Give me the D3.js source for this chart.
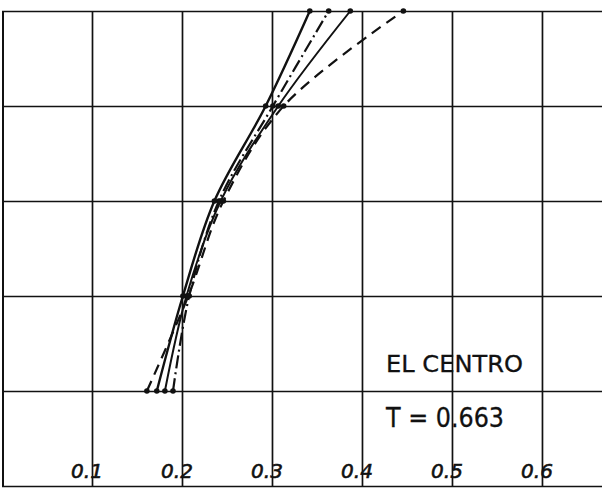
<!DOCTYPE html>
<html><head><meta charset="utf-8">
<script src="https://cdn.jsdelivr.net/npm/d3@7"></script>
<style>body{margin:0;background:#fff}svg{display:block}</style>
</head><body>
<script>
const levels = [1, 2, 3, 4, 5];
const xTicks = [0.1, 0.2, 0.3, 0.4, 0.5, 0.6];
const xTickLabels = ["0.1", "0.2", "0.3", "0.4", "0.5", "0.6"];
const yTicks = [0, 1, 2, 3, 4, 5];
const seriesA = [0.172, 0.201, 0.236, 0.293, 0.342]; // solid (left at top)
const seriesB = [0.190, 0.208, 0.241, 0.301, 0.363]; // dash-dot
const seriesC = [0.181, 0.205, 0.243, 0.307, 0.387]; // solid
const seriesD = [0.161, 0.207, 0.246, 0.313, 0.446]; // dashed
const titleText = "EL CENTRO";
const periodText = "T = 0.663";

const W = 602, H = 488;
const svg = d3.select("body").append("svg").attr("width", W).attr("height", H);
const x = d3.scaleLinear().domain([0, 0.6667]).range([2, 602]);
const y = d3.scaleLinear().domain([0, 5]).range([486, 11]);

// grid
const gx = svg.append("g").attr("transform", `translate(0,${y(0)})`)
  .call(d3.axisBottom(x).tickValues(xTicks).tickSize(-(y(0) - y(5))).tickFormat(""));
gx.select(".domain").remove();
gx.selectAll("line").attr("stroke", "#111").attr("stroke-width", 1.7);

const gy = svg.append("g").attr("transform", `translate(${x(0)},0)`)
  .call(d3.axisLeft(y).tickValues(yTicks).tickSize(-(W - x(0))).tickFormat(""));
gy.select(".domain").remove();
gy.selectAll("line").attr("stroke", "#111").attr("stroke-width", 1.7);

// left border
svg.append("line").attr("x1", x(0) + 1).attr("x2", x(0) + 1).attr("y1", y(5)).attr("y2", y(0))
  .attr("stroke", "#111").attr("stroke-width", 2);

// tick labels
svg.append("g").selectAll("text").data(xTicks).join("text")
  .attr("x", d => x(d) - 5).attr("y", 478)
  .attr("text-anchor", "middle")
  .attr("font-family", "DejaVu Sans, sans-serif").attr("font-style", "italic")
  .attr("font-size", 20).attr("fill", "#111").attr("stroke", "#111").attr("stroke-width", 0.6)
  .text((d, i) => xTickLabels[i]);

// series
const series = [
  {v: seriesA, dash: null, w: 2.4},
  {v: seriesB, dash: "13,4,2,4", w: 2.2},
  {v: seriesC, dash: null, w: 2.0},
  {v: seriesD, dash: "11,7", w: 2.2}
];
const line = d3.line().x(d => x(d[0])).y(d => y(d[1])).curve(d3.curveCatmullRom.alpha(0.5));
series.forEach(s => {
  const pts = s.v.map((v, i) => [v, levels[i]]);
  svg.append("path").datum(pts).attr("d", line)
    .attr("fill", "none").attr("stroke", "#111").attr("stroke-width", s.w)
    .attr("stroke-dasharray", s.dash);
  svg.append("g").selectAll("circle").data(pts).join("circle")
    .attr("cx", d => x(d[0])).attr("cy", d => y(d[1])).attr("r", 2.8).attr("fill", "#111");
});

// annotations
svg.append("text").attr("x", 386).attr("y", 372)
  .attr("font-family", "DejaVu Sans, sans-serif").attr("font-size", 23)
  .attr("fill", "#111").attr("stroke", "#111").attr("stroke-width", 0.3)
  .attr("textLength", 137).attr("lengthAdjust", "spacingAndGlyphs")
  .text(titleText);
svg.append("text").attr("x", 386).attr("y", 427)
  .attr("font-family", "DejaVu Sans, sans-serif").attr("font-size", 26)
  .attr("fill", "#111").attr("stroke", "#111").attr("stroke-width", 0.3)
  .attr("textLength", 118).attr("lengthAdjust", "spacingAndGlyphs")
  .text(periodText);
</script>
</body></html>
